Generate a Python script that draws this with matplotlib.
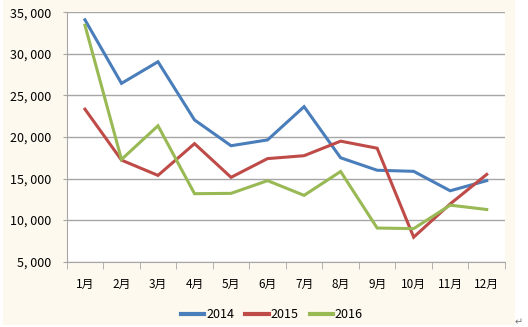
import matplotlib
matplotlib.use("Agg")
import matplotlib.pyplot as plt
from matplotlib.patches import Rectangle
from matplotlib.ticker import FuncFormatter

# monthly totals for three years
months = ["1月", "2月", "3月", "4月", "5月", "6月", "7月", "8月", "9月", "10月", "11月", "12月"]
y2014 = [34100, 26450, 29050, 22050, 18950, 19650, 23650, 17500, 16000, 15870, 13530, 14750]
y2015 = [23350, 17220, 15380, 19200, 15150, 17400, 17750, 19500, 18650, 7950, 11950, 15500]
y2016 = [33450, 17300, 21350, 13180, 13220, 14750, 12980, 15850, 9050, 8980, 11800, 11280]

series = [("2014", y2014, "#4A7EBB"), ("2015", y2015, "#BE4B48"), ("2016", y2016, "#98B954")]

fonts = ["Liberation Sans Narrow", "Noto Sans CJK SC", "DejaVu Sans"]
plt.rcParams["font.family"] = fonts

fig = plt.figure(figsize=(5.28, 3.27), dpi=100, facecolor="white")
# cream chart area
fig.patches.append(Rectangle((3 / 528, 2 / 327), 512 / 528, 325 / 327,
                             transform=fig.transFigure, facecolor="#FEF9EE",
                             edgecolor="none", zorder=-10))

ax = fig.add_axes([0.1263, 0.1997, 0.8301, 0.7627])
ax.set_facecolor("white")

x = list(range(len(months)))
for name, vals, col in series:
    ax.plot(x, vals, color=col, lw=2.2, label=name, solid_joinstyle="miter")

ax.set_xlim(-0.5, len(months) - 0.5)
ax.set_ylim(5000, 35000)
ax.set_yticks(range(5000, 35001, 5000))
ax.yaxis.set_major_formatter(FuncFormatter(lambda v, p: f"{int(v):,}".replace(",", ", ")))
ax.grid(axis="y", color="#a6a6a6", lw=1)
ax.set_axisbelow(True)

ax.set_xticks(x)
ax.set_xticklabels(months)
ax.set_xticks([i - 0.5 for i in range(len(months) + 1)], minor=True)
ax.tick_params(axis="x", which="major", length=0, pad=12, labelsize=8.5)
ax.tick_params(axis="x", which="minor", length=5, color="#a6a6a6", direction="out")
ax.tick_params(axis="y", length=3, color="#a6a6a6", pad=8, labelsize=9)

for s in ["top", "right"]:
    ax.spines[s].set_visible(False)
ax.spines["left"].set_color("#a6a6a6")
ax.spines["bottom"].set_color("#a6a6a6")

leg = fig.legend(loc="center", bbox_to_anchor=(0.515, 1 - 315 / 327), ncol=3,
                 frameon=False, fontsize=9, handlelength=1.85, handletextpad=0.15,
                 columnspacing=0.9)
for h in leg.get_lines():
    h.set_linewidth(3)

fig.text(519 / 528, 1 - 322 / 327, "↵", fontsize=7, color="#777777",
         ha="center", va="center", family="DejaVu Sans")

fig.savefig("out.png", dpi=100)
